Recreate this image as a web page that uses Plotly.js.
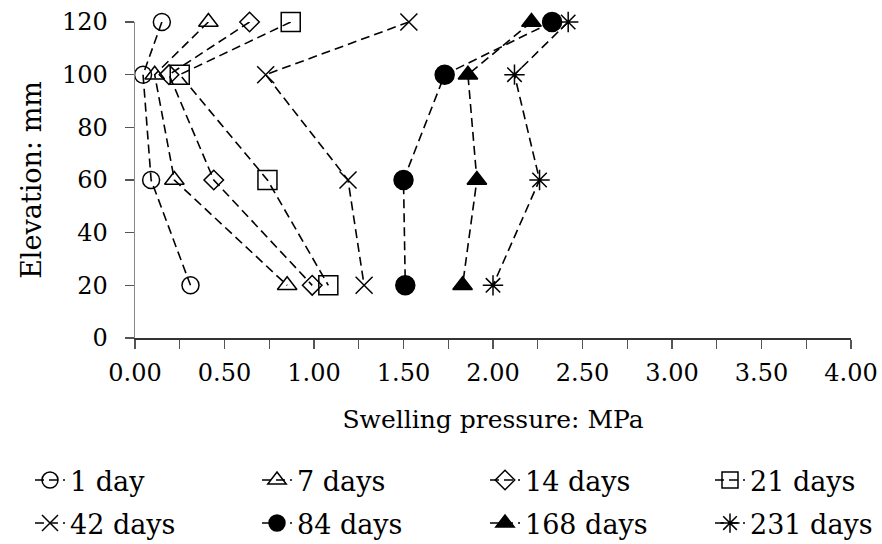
<!DOCTYPE html>
<html>
<head>
<meta charset="utf-8">
<script src="https://cdn.plot.ly/plotly-3.0.1.min.js"></script>
<style>html,body{margin:0;padding:0;background:#fff;}#chart{width:882px;height:544px;}</style>
</head>
<body>
<div id="chart"></div>
<script>
// Elevation (mm) of the measuring points
const elevation = [120, 100, 60, 20];

// Swelling pressure (MPa) per curing age
const day1   = [0.15, 0.045, 0.09, 0.31];
const day7   = [0.41, 0.11, 0.22, 0.85];
const day14  = [0.64, 0.19, 0.44, 0.99];
const day21  = [0.87, 0.25, 0.74, 1.08];
const day42  = [1.53, 0.73, 1.19, 1.28];
const day84  = [2.33, 1.73, 1.50, 1.51];
const day168 = [2.215, 1.86, 1.91, 1.83];
const day231 = [2.42, 2.12, 2.26, 2.00];

const seriesNames = ["1 day", "7 days", "14 days", "21 days", "42 days", "84 days", "168 days", "231 days"];
const seriesData = [day1, day7, day14, day21, day42, day84, day168, day231];
const symbols = ["circle-open", "triangle-up-open", "diamond-open", "square-open",
                 "x-thin-open", "circle", "triangle-up", "asterisk-open"];
const sizes = [17, 17, 15, 19, 17, 19, 17, 17];

const FONT = "DejaVu Serif";

// one legend box per entry, laid out as a 4 x 2 grid under the chart
const legendIds = seriesNames.map((_, i) => i === 0 ? "legend" : "legend" + (i + 1));
const colX = [30, 257, 485, 710];
const rowY = [456, 499];

const traces = seriesData.map((xs, i) => ({
  type: "scatter",
  mode: "lines+markers",
  name: seriesNames[i],
  legend: legendIds[i],
  x: xs,
  y: elevation,
  cliponaxis: false,
  line: {color: "#000", width: 1.6, dash: "9px,5px"},
  marker: {symbol: symbols[i], size: sizes[i], color: "#000",
           line: {color: "#000", width: 1.5}}
}));

const layout = {
  width: 882, height: 544,
  paper_bgcolor: "#fff", plot_bgcolor: "#fff",
  margin: {l: 135, r: 31, t: 22, b: 206},
  font: {family: FONT, color: "#000", size: 24},
  showlegend: true,
  xaxis: {
    range: [0, 4], dtick: 0.5, tick0: 0, tickformat: ".2f",
    ticks: "outside", ticklen: 9, tickwidth: 1.2, tickcolor: "#555",
    showline: true, linecolor: "#333", linewidth: 1.5,
    showgrid: false, zeroline: false,
    minor: {dtick: 0.25, ticks: "outside", ticklen: 9, tickcolor: "#555", tickwidth: 1.2, showgrid: false},
    tickfont: {family: FONT, size: 24},
    ticklabelstandoff: 4,
    title: {text: "Swelling pressure: MPa", font: {family: FONT, size: 25}, standoff: 24}
  },
  yaxis: {
    range: [0, 120], dtick: 20, tick0: 0,
    ticks: "outside", ticklen: 9, tickwidth: 1.2, tickcolor: "#555",
    showline: true, linecolor: "#888", linewidth: 1.5,
    showgrid: false, zeroline: false,
    tickfont: {family: FONT, size: 24},
    ticklabelstandoff: 12,
    title: {text: "Elevation: mm", font: {family: FONT, size: 27}, standoff: 12}
  }
};

legendIds.forEach((id, i) => {
  layout[id] = {
    orientation: "h",
    xref: "container", yref: "container",
    x: colX[i % 4] / 882, y: 1 - rowY[Math.floor(i / 4)] / 544,
    xanchor: "left", yanchor: "top",
    font: {family: FONT, size: 27, color: "#000"},
    itemsizing: "trace",
    bgcolor: "rgba(0,0,0,0)"
  };
});

Plotly.newPlot("chart", traces, layout, {displayModeBar: false, staticPlot: true});
</script>
</body>
</html>
